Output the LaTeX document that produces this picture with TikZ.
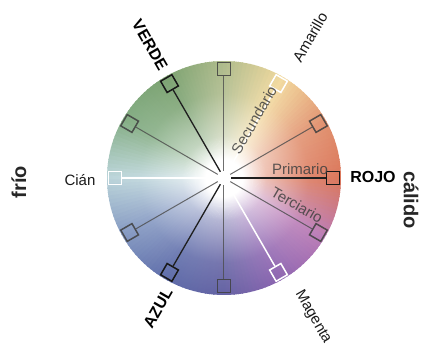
\documentclass[tikz,border=0pt]{standalone}
\usepackage{fontspec}
\setmainfont{Liberation Sans}
\usetikzlibrary{fadings}
\definecolor{c0}{HTML}{D5603F}
\definecolor{c1}{HTML}{DD8058}
\definecolor{c2}{HTML}{F0D38E}
\definecolor{c3}{HTML}{A2B078}
\definecolor{c4}{HTML}{66935A}
\definecolor{c5}{HTML}{70A070}
\definecolor{c6}{HTML}{B0CED4}
\definecolor{c7}{HTML}{7088B8}
\definecolor{c8}{HTML}{44559C}
\definecolor{c9}{HTML}{4A4894}
\definecolor{c10}{HTML}{7C4CA4}
\definecolor{c11}{HTML}{B066AA}
\definecolor{c12}{HTML}{D5603F}
\pgfdeclareradialshading{wfadesh}{\pgfpointorigin}{color(0bp)=(white); color(4bp)=(white); color(9bp)=(white!60!black); color(18bp)=(white!25!black); color(30bp)=(white!7!black); color(42bp)=(black); color(50bp)=(black)}
\pgfdeclarefading{wfade}{\pgfuseshading{wfadesh}}
\tikzset{
  sq/.style={draw=black!75, line width=1.5pt, minimum size=13pt, inner sep=0pt, rectangle, opacity=0.85},
  sqprim/.style={sq, draw=black!90, opacity=1},
  sqwhite/.style={sq, draw=white, opacity=1},
  spoke/.style={draw=black!70, line width=1pt, opacity=0.8},
  spokeprim/.style={draw=black!88, line width=1.3pt},
  spokewhite/.style={draw=white, line width=1.5pt},
  boldlab/.style={font=\fontsize{16}{16}\selectfont\bfseries, text=black},
  normlab/.style={font=\fontsize{15}{15}\selectfont, text=black!90},
  bigbold/.style={font=\fontsize{20}{20}\selectfont\bfseries, text=black!85},
  innerlab/.style={font=\fontsize{15}{15}\selectfont, text=black!75, opacity=0.85},
}
\begin{document}
\begin{tikzpicture}[x=1pt,y=1pt]
\useasboundingbox (-224,-169) rectangle (199,178);
% colour wheel
\foreach \a in {0,2,...,358}{
  \pgfmathtruncatemacro\k{int(\a/30)}
  \pgfmathtruncatemacro\kk{\k+1}
  \pgfmathtruncatemacro\p{100-100*mod(\a,30)/30}
  \fill[fill={c\k!\p!c\kk}] (0,0) -- (\a-1.3:117) arc[start angle=\a-1.3, end angle=\a+1.3, radius=117] -- cycle;
}
\fill[white, path fading=wfade] (0,0) circle (117);
\fill[white, opacity=0.6] (0,0) circle (12);
\fill[white] (0,0) circle (8.5);
% centre and squares
\node[circle, inner sep=0pt, minimum size=14pt] (c) at (0,0) {};
\node[sqprim, rotate=0] (s0) at (0:109) {};
\node[sq, rotate=30] (s1) at (30:109) {};
\node[sqwhite, rotate=60] (s2) at (60:109) {};
\node[sq, rotate=90] (s3) at (90:109) {};
\node[sqprim, rotate=120] (s4) at (120:109) {};
\node[sq, rotate=150] (s5) at (150:109) {};
\node[sqwhite, rotate=180] (s6) at (180:109) {};
\node[sq, rotate=210] (s7) at (210:109) {};
\node[sqprim, rotate=240] (s8) at (240:109) {};
\node[sq, rotate=270] (s9) at (270:108) {};
\node[sqwhite, rotate=300] (s10) at (300:109) {};
\node[sq, rotate=330] (s11) at (330:109) {};
\draw[spokeprim] (c) -- (s0);
\draw[spoke] (c) -- (s1);
\draw[spokewhite] (c) -- (s2);
\draw[spoke] (c) -- (s3);
\draw[spokeprim] (c) -- (s4);
\draw[spoke] (c) -- (s5);
\draw[spokewhite] (c) -- (s6);
\draw[spoke] (c) -- (s7);
\draw[spokeprim] (c) -- (s8);
\draw[spoke] (c) -- (s9);
\draw[spokewhite] (c) -- (s10);
\draw[spoke] (c) -- (s11);
% inner labels
\node[innerlab, rotate=60] (sec) at (30,58) {Secundario};
\node[innerlab] (pri) at (76,9) {Primario};
\node[innerlab, rotate=-30] (ter) at (73,-27) {Terciario};
% outer labels
\node[boldlab, rotate=-60] (verde) at (-74,133) {VERDE};
\node[normlab, rotate=60] (amar) at (86,141) {Amarillo};
\node[boldlab] (rojo) at (149,1) {ROJO};
\node[bigbold, rotate=-90] (calido) at (187,-22) {cálido};
\node[bigbold, rotate=90] (frio) at (-205,-4) {frío};
\node[normlab] (cian) at (-144,-2) {Cián};
\node[boldlab, rotate=60] (azul) at (-66,-130) {AZUL};
\node[normlab, rotate=-60] (mag) at (89,-139) {Magenta};
\end{tikzpicture}
\end{document}
